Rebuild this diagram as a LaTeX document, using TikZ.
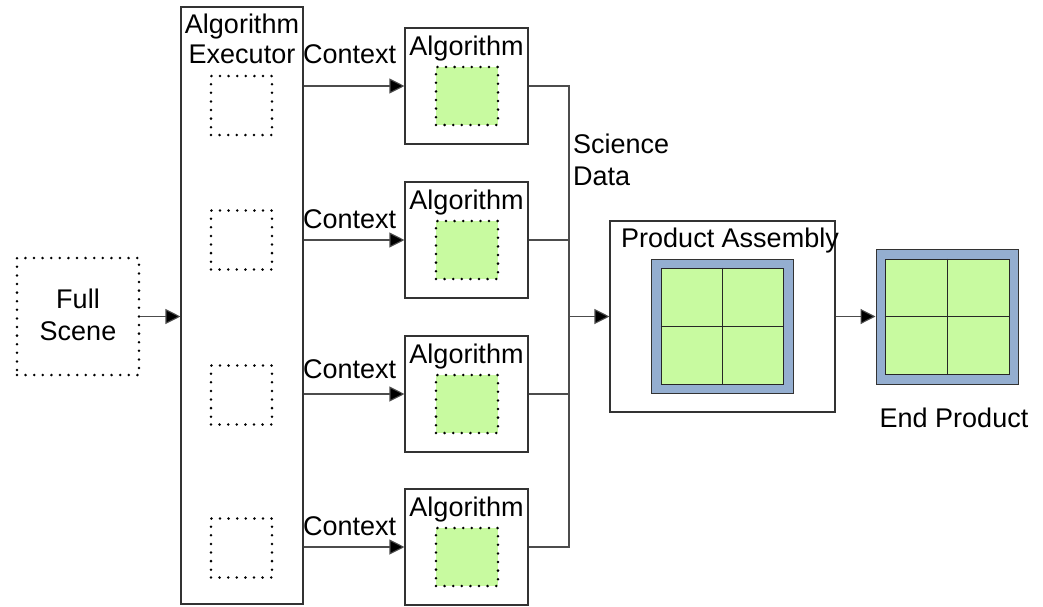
\documentclass[tikz,border=0pt]{standalone}
\usepackage{fontspec}
\setmainfont{Liberation Sans}
\usetikzlibrary{arrows.meta}
\definecolor{cellgreen}{RGB}{200,250,160}
\definecolor{framblue}{RGB}{148,174,208}
\begin{document}
\begin{tikzpicture}[x=1pt,y=-1pt,
  every node/.style={font=\fontsize{27}{32}\selectfont},
  box/.style={draw=black!80,line width=1.1pt,fill=white,minimum width=#1,inner sep=0pt},
  dotbox/.style={draw=black,line width=2.8pt,dash pattern=on 0pt off 8.6pt,line cap=round,inner sep=0pt,minimum width=61pt,minimum height=59pt},
  greenbox/.style={dotbox,fill=cellgreen,minimum width=62pt,minimum height=58pt},
  lbl/.style={anchor=base,inner sep=0pt},
  lblw/.style={anchor=base west,inner sep=0pt},
  wire/.style={draw=black!70,line width=1.1pt},
  arr/.style={draw=black!70,line width=1.1pt,-{Triangle[length=15pt,width=15pt,fill=black]}},
  frame/.style={draw=black!80,line width=1pt,fill=framblue,inner sep=0pt},
  grid/.style={draw=black!85,line width=1pt,fill=cellgreen,inner sep=0pt}
]
\useasboundingbox (0,0) rectangle (1043,606);

% Full scene
\node[dotbox,minimum width=122pt,minimum height=117pt] (full) at (78,316.5) {};
\node[lbl] (fullA) at (78,308) {Full};
\node[lbl] (fullB) at (78,340) {Scene};

% Executor
\node[box=122pt,minimum height=597pt] (exec) at (242,305.5) {};
\node[lbl] (execA) at (242,33) {Algorithm};
\node[lbl] (execB) at (242,63) {Executor};
\node[dotbox] (d1) at (241.5,105.5) {};
\node[dotbox] (d2) at (241.5,240) {};
\node[dotbox] (d3) at (241.5,395) {};
\node[dotbox] (d4) at (241.5,548) {};

% Algorithm boxes
\foreach \i/\y/\cy in {1/86/63,2/240/228,3/394/378,4/547/535}{
  \node[box=123pt,minimum height=116pt] (alg\i) at (466.5,\y) {};
  \node[lbl] (algl\i) at (466.5,\y-31) {Algorithm};
  \node[greenbox] (g\i) at (467,\y+10) {};
  \node[lblw] (ctx\i) at (303,\cy) {Context};
  \draw[arr] (exec.east |- alg\i.west) -- (alg\i.west);
}

\draw[arr] (full.east) -- (full.east -| exec.west);

% Bus
\coordinate (bus) at (569,316.5);
\draw[wire] (alg1.east) -- (alg1.east -| bus) -- (alg4.east -| bus) -- (alg4.east);
\draw[wire] (alg2.east) -- (alg2.east -| bus);
\draw[wire] (alg3.east) -- (alg3.east -| bus);
\node[lblw] (sci) at (573,153) {Science};
\node[lblw] (dat) at (573,185) {Data};

% Product assembly
\node[box=225pt,minimum height=191pt] (pa) at (722.5,316.5) {};
\node[lbl] (pal) at (730,247) {Product Assembly};
\node[frame,minimum width=142pt,minimum height=134pt] (paf) at (722,326) {};
\node[grid,minimum width=122pt,minimum height=116pt] (pag) at (722,326) {};
\draw[draw=black!85,line width=1pt] (pag.north) -- (pag.south) (pag.west) -- (pag.east);
\draw[arr] (bus) -- (pa.west);

% End product
\node[frame,minimum width=142pt,minimum height=135pt] (ep) at (947,316.5) {};
\node[grid,minimum width=124pt,minimum height=115pt] (epg) at (947,316.5) {};
\draw[draw=black!85,line width=1pt] (epg.north) -- (epg.south) (epg.west) -- (epg.east);
\node[lbl] (epl) at (954,427) {End Product};
\draw[arr] (pa.east) -- (ep.west);
\end{tikzpicture}
\end{document}
